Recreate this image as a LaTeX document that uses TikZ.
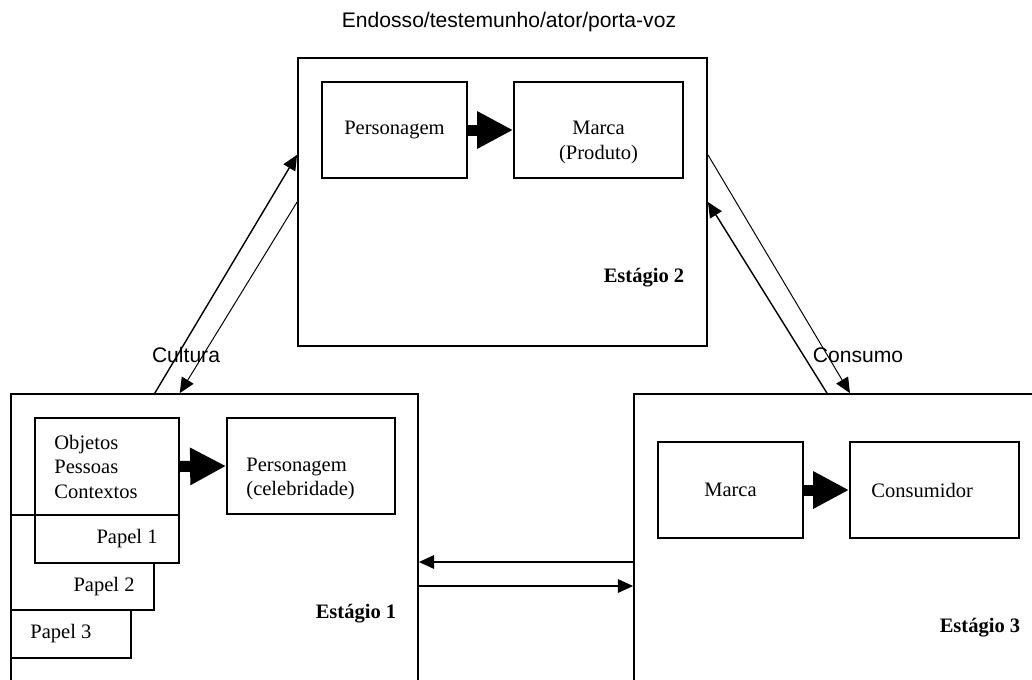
\documentclass[tikz,border=0pt]{standalone}
\usepackage{fontspec}
\setmainfont{Liberation Serif}
\setsansfont{Liberation Sans}
\usetikzlibrary{arrows.meta,calc,positioning}
\tikzstyle{stage} = [draw, line width=1.2pt, inner sep=0pt]
\tikzstyle{box} = [draw, line width=1.2pt, fill=white, inner sep=0pt, font=\fontsize{14.6}{17.4}\selectfont]
\tikzstyle{txt} = [inner sep=0pt, font=\fontsize{14.6}{17.4}\selectfont]
\tikzstyle{stagelabel} = [inner sep=0pt, font=\fontsize{14.6}{17.4}\selectfont\bfseries]
\tikzstyle{flowlabel} = [inner sep=0pt, font=\fontsize{15}{18}\selectfont\sffamily]
\tikzstyle{bigarrow} = [line width=0.275cm,-{Triangle[length=0.9cm,width=0.875cm]}]
\tikzstyle{connector} = [line width=1pt,-{Triangle[length=0.38cm,width=0.34cm]}]
\tikzstyle{thinconnector} = [line width=0.7pt,-{Triangle[length=0.38cm,width=0.34cm]}]

\begin{document}
\begin{tikzpicture}[x=0.025cm,y=-0.025cm]
        \useasboundingbox (0,0) rectangle (1032,679);
        \clip (0,0) rectangle (1032,679);
        % the three stages
        \node (stage2) [stage, minimum width=10.225cm, minimum height=7.2cm] at (502.5,202) {};
        \node (stage1) [stage, minimum width=10.175cm, minimum height=7.65cm] at (214.5,547) {};
        \node (stage3) [stage, minimum width=10.4cm, minimum height=7.65cm] at (842,547) {};
        \node (title) [flowlabel] at (509,22) {Endosso/testemunho/ator/porta-voz};
        \node (stage2-label) [stagelabel] at (644,278) {Estágio 2};
        \node (stage1-label) [stagelabel] at (356,614) {Estágio 1};
        \node (stage3-label) [stagelabel] at (980,628) {Estágio 3};
        % stage 2
        \node (pers2) [box, minimum width=3.625cm, minimum height=2.4cm] at (394.5,130) {Personagem};
        \node (marca2) [box, minimum width=4.225cm, minimum height=2.4cm] at (598.5,130) {};
        \node (marca2-text) [txt, align=center] at ([yshift=-0.31cm]marca2.center) {Marca\\(Produto)};
        \draw [bigarrow] (pers2.east) -- (marca2.west);
        % stage 1
        \node (papel2) [box, minimum width=3.575cm, minimum height=2.375cm] at (82.5,562.5) {};
        \node (papel2-text) [txt, anchor=east] at ([xshift=-0.5cm,yshift=-0.6cm]papel2.east) {Papel 2};
        \node (papel3) [box, minimum width=3cm, minimum height=1.2cm] at (71,634) {};
        \node (papel3-text) [txt, anchor=west] at ([xshift=0.5cm]papel3.west) {Papel 3};
        \node (objetos) [box, minimum width=3.6cm, minimum height=2.425cm] at (107,466.5) {};
        \node (objetos-text) [txt, anchor=west, align=left] at ([xshift=0.5cm]objetos.west) {Objetos\\Pessoas\\Contextos};
        \node (papel1) [box, minimum width=3.6cm, minimum height=1.2cm, below=-1.2pt of objetos] {};
        \node (papel1-text) [txt, anchor=east] at ([xshift=-0.55cm]papel1.east) {Papel 1};
        \node (celeb) [box, minimum width=4.2cm, minimum height=2.4cm] at (311,466) {};
        \node (celeb-text) [txt, anchor=west, align=left] at ([xshift=0.5cm,yshift=-0.325cm]celeb.west) {Personagem\\(celebridade)};
        \draw [bigarrow] (objetos.east) -- (celeb.west);
        % stage 3
        \node (marca3) [box, minimum width=3.625cm, minimum height=2.4cm] at (730.5,490) {Marca};
        \node (consum) [box, minimum width=4.225cm, minimum height=2.4cm] at (934.5,490) {};
        \node (consum-text) [txt, anchor=west] at ([xshift=0.55cm]consum.west) {Consumidor};
        \draw [bigarrow] (marca3.east) -- (consum.west);
        % links between the stages
        \draw [connector] ($(stage1.north west)!0.354!(stage1.north east)$) -- ($(stage2.north west)!0.337!(stage2.south west)$);
        \draw [thinconnector] (stage2.west) -- ($(stage1.north west)!0.415!(stage1.north east)$);
        \draw [thinconnector] ($(stage2.north east)!0.337!(stage2.south east)$) -- ($(stage3.north west)!0.519!(stage3.north east)$);
        \draw [connector] ($(stage3.north west)!0.464!(stage3.north east)$) -- (stage2.east);
        \draw [connector] ([yshift=-0.375cm]stage3.west) -- ([yshift=-0.375cm]stage1.east);
        \draw [connector] ([yshift=-0.975cm]stage1.east) -- ([yshift=-0.975cm]stage3.west);
        \node (cultura) [flowlabel] at (186,355) {Cultura};
        \node (consumo) [flowlabel] at (858,355) {Consumo};
    \end{tikzpicture}
\end{document}
